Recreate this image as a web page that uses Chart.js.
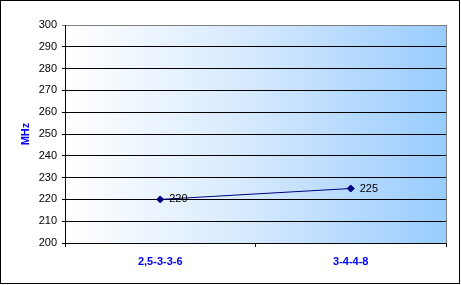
<!DOCTYPE html>
<html>
<head>
<meta charset="utf-8">
<script src="https://cdn.jsdelivr.net/npm/chart.js@4"></script>
<style>
  html, body { margin: 0; padding: 0; background: #fff; }
  canvas { display: block; }
</style>
</head>
<body>
<canvas id="memChart" width="461" height="285"></canvas>
<script>
const categories = ['2,5-3-3-6', '3-4-4-8'];
const mhzValues = [220, 225];
const yMin = 200;
const yMax = 300;
const yStep = 10;

// background, gradient in plot area, borders, point labels
const frame = {
    id: 'frame',
    beforeDraw(chart) {
        const ctx = chart.ctx;
        const a = chart.chartArea;
        ctx.save();
        ctx.fillStyle = '#fff';
        ctx.fillRect(0, 0, chart.width, chart.height);
        const g = ctx.createLinearGradient(a.left, 0, a.right, 0);
        g.addColorStop(0, '#ffffff');
        g.addColorStop(0.45, '#d9ebfe');
        g.addColorStop(1, '#99ccff');
        ctx.fillStyle = g;
        ctx.fillRect(a.left, a.top, a.right - a.left, a.bottom - a.top);
        ctx.restore();
    },
    afterDraw(chart) {
        const ctx = chart.ctx;
        const a = chart.chartArea;
        ctx.save();
        ctx.strokeStyle = '#808080';
        ctx.lineWidth = 1;
        ctx.beginPath();
        ctx.moveTo(a.right + 0.5, a.top);
        ctx.lineTo(a.right + 0.5, a.bottom);
        ctx.stroke();
        ctx.strokeStyle = '#000';
        ctx.strokeRect(0.5, 0.5, chart.width - 2, chart.height - 2);
        ctx.restore();
    },
    afterDatasetsDraw(chart) {
        const ctx = chart.ctx;
        const meta = chart.getDatasetMeta(0);
        ctx.save();
        ctx.font = '11px "Liberation Sans", Arial, sans-serif';
        ctx.fillStyle = '#000';
        ctx.textAlign = 'left';
        ctx.textBaseline = 'middle';
        meta.data.forEach((pt, i) => {
            ctx.fillText(String(mhzValues[i]), pt.x + 9, pt.y);
        });
        ctx.restore();
    }
};

new Chart(document.getElementById('memChart').getContext('2d'), {
    type: 'line',
    data: {
        labels: categories,
        datasets: [{
            data: mhzValues,
            borderColor: '#000080',
            backgroundColor: '#000080',
            borderWidth: 1,
            pointStyle: 'rectRot',
            pointRadius: 3.5,
            pointBorderWidth: 1,
            tension: 0,
        }]
    },
    options: {
        responsive: false,
        animation: false,
        layout: { padding: { top: 25, right: 15, left: 0, bottom: 0 } },
        plugins: {
            legend: { display: false },
            tooltip: { enabled: false }
        },
        scales: {
            x: {
                offset: true,
                afterFit: s => { s.height = 42; },
                grid: {
                    offset: true,
                    drawOnChartArea: false,
                    drawTicks: true,
                    tickLength: 4,
                    color: '#000',
                },
                border: { color: '#000', width: 1 },
                ticks: {
                    color: '#0000ff',
                    padding: 8,
                    font: { family: '"Liberation Sans", Arial, sans-serif', size: 11, weight: 'bold' }
                }
            },
            y: {
                min: yMin,
                max: yMax,
                afterFit: s => { s.width = 65; },
                grid: {
                    color: ctx => ctx.tick && ctx.tick.value === yMax ? '#808080' : '#000',
                    tickLength: 3,
                    drawTicks: true,
                },
                border: { color: '#000', width: 1 },
                ticks: {
                    stepSize: yStep,
                    color: '#000',
                    padding: 5,
                    font: { family: '"Liberation Sans", Arial, sans-serif', size: 11 }
                },
                title: {
                    display: true,
                    text: 'MHz',
                    color: '#0000ff',
                    padding: { top: 19, bottom: 0 },
                    font: { family: '"Liberation Sans", Arial, sans-serif', size: 11, weight: 'bold' }
                }
            }
        }
    },
    plugins: [frame]
});
</script>
</body>
</html>
